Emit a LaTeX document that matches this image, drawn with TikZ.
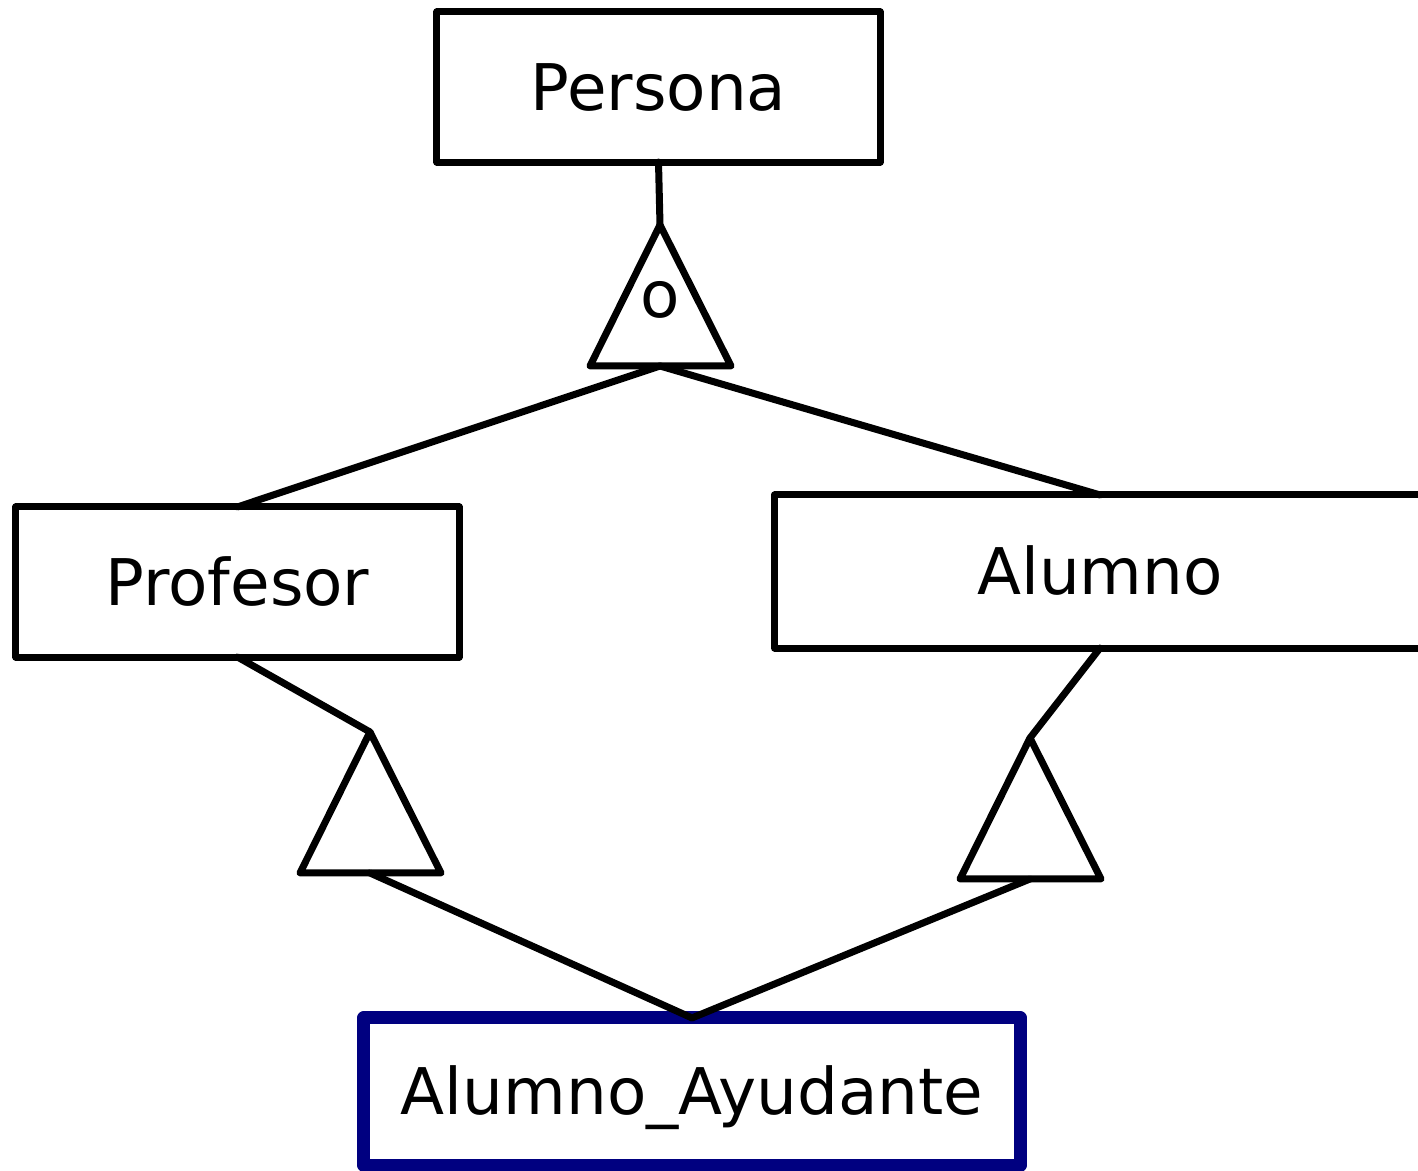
\documentclass[tikz,border=0pt]{standalone}
\usepackage{fontspec}
\setmainfont{DejaVu Sans}
\definecolor{navyframe}{RGB}{0,0,128}
\begin{document}
\begin{tikzpicture}[x=0.01cm,y=-0.01cm,
  line join=round,
  entity/.style={draw=black, line width=0.07cm, rectangle, inner sep=0pt, outer sep=0pt,
    font=\fontsize{18.3pt}{22pt}\selectfont, text height=13.34pt, text depth=0pt},
  weakentity/.style={entity, draw=navyframe, line width=0.13cm},
  link/.style={draw=black, line width=0.07cm, line cap=round},
  isa/.style={draw=black, line width=0.07cm, line join=round},
  isalabel/.style={font=\fontsize{18.3pt}{22pt}\selectfont, inner sep=0pt, anchor=base}
]
\useasboundingbox (0,0) rectangle (1418,1171);
\clip (0,0) rectangle (1418,1171);

% entity boxes
\node[entity, minimum width=4.43cm, minimum height=1.50cm] (persona) at (658.5,87) {Persona};
\node[entity, minimum width=4.43cm, minimum height=1.50cm] (profesor) at (237.5,582) {Profesor};
\node[entity, minimum width=6.50cm, minimum height=1.53cm] (alumno) at (1100,571.5) {Alumno};
\node[weakentity, minimum width=6.56cm, minimum height=1.47cm] (ayudante) at (692,1091.5) {Alumno\_Ayudante};

% specialisation triangles: apex and base midpoint
\coordinate (ta) at (660,225);   \coordinate (tb) at (660,366);
\coordinate (la) at (370,732);   \coordinate (lb) at (370,873);
\coordinate (ra) at (1030,738);  \coordinate (rb) at (1030,879);

\draw[isa] (ta) -- ++(-70,141) -- ++(141,0) -- cycle;
\draw[isa] (la) -- ++(-70,141) -- ++(141,0) -- cycle;
\draw[isa] (ra) -- ++(-70,141) -- ++(141,0) -- cycle;
\node[isalabel] (overlap) at (660,318) {o};

% connectors
\draw[link] (persona.south) -- (ta);
\draw[link] (tb) -- (profesor.north);
\draw[link] (tb) -- (alumno.north);
\draw[link] (profesor.south) -- (la);
\draw[link] (alumno.south) -- (ra);
\draw[link] (lb) -- (ayudante.north);
\draw[link] (rb) -- (ayudante.north);
\end{tikzpicture}
\end{document}
